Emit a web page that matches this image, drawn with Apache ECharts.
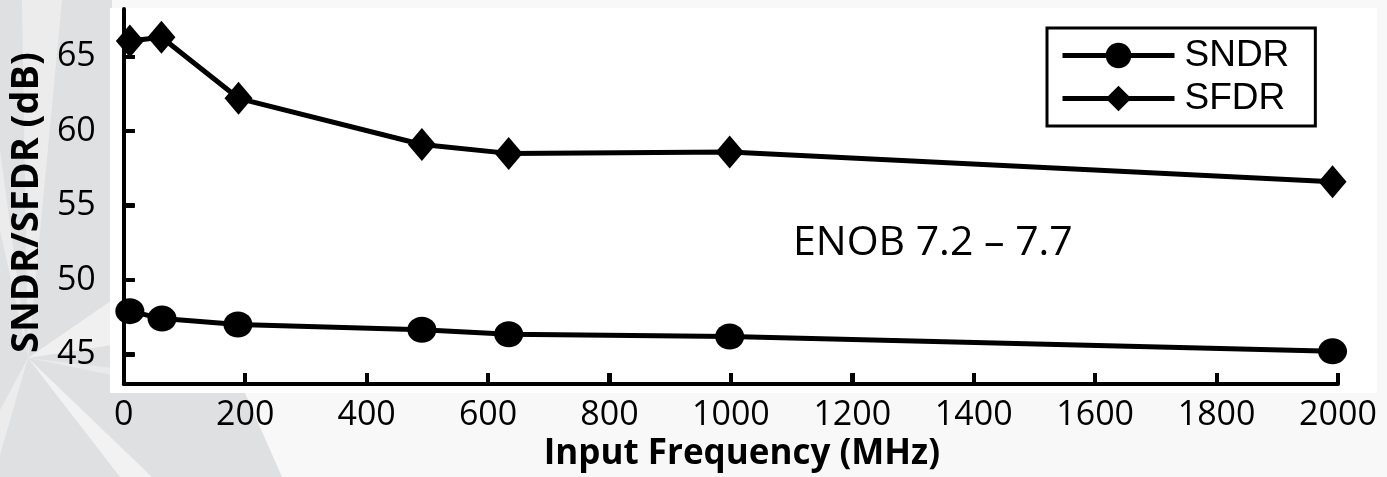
<!DOCTYPE html>
<html>
<head>
<meta charset="utf-8">
<script src="https://cdn.jsdelivr.net/npm/echarts@6/dist/echarts.min.js"></script>
<style>
html,body{margin:0;padding:0;background:#f8f8f8;}
#wrap{position:relative;width:1387px;height:477px;}
#bg{position:absolute;left:0;top:0;z-index:0;}
#c{position:absolute;left:0;top:0;width:1387px;height:477px;z-index:1;}
#ticks{position:absolute;left:0;top:0;pointer-events:none;z-index:10;}
</style>
</head>
<body>
<div id="wrap">
<svg id="bg" width="1387" height="477" xmlns="http://www.w3.org/2000/svg">
  <rect x="0" y="0" width="1387" height="477" fill="#f8f8f8"/>
  <polygon points="0,0 112,0 112,393 245,393 282,477 0,477" fill="#dfe0e2"/>
  <polygon points="28,358 22,0 62,0" fill="#ececed"/>
  <polygon points="28,358 0,150 0,230" fill="#ececed"/>
  <polygon points="28,358 112,300 112,345" fill="#f0f0f0"/>
  <polygon points="28,358 120,477 152,477" fill="#f2f2f2"/>
  <polygon points="28,358 0,410 0,455" fill="#ececed"/>
  <polygon points="28,358 112,368 112,393 200,393" fill="#eaeaeb"/>
  <rect x="110" y="8" width="1267" height="385" fill="#ffffff"/>
</svg>
<div id="c"></div>
<svg id="ticks" width="1387" height="477" xmlns="http://www.w3.org/2000/svg"></svg>
</div>
<script>
// ---- data ----
const sndrFreq = [10, 63, 188, 491, 634, 998, 1991];
const sndrVals = [47.9, 47.4, 47.0, 46.65, 46.35, 46.2, 45.2];
const sfdrFreq = [10, 62, 189, 491, 634, 998, 1991];
const sfdrVals = [66.05, 66.3, 62.2, 59.1, 58.5, 58.6, 56.6];
const yTicks = [45, 50, 55, 60, 65];
const xTicks = [0, 200, 400, 600, 800, 1000, 1200, 1400, 1600, 1800, 2000];
const annotation = 'ENOB 7.2 \u2013 7.7';
const yMin = 43, yMax = 68.2, xMin = 0, xMax = 2000;

const toPairs = (xs, ys) => xs.map((x, i) => [x, ys[i]]);
const noComma = v => String(v);
const GRID = {left: 121, right: 49, top: 9, bottom: 90};
const W = 1387, H = 477;

const chart = echarts.init(document.getElementById('c'));

const option = {
  animation: false,
  backgroundColor: 'transparent',
  graphic: [
    {id: 'enob', type: 'text', x: 793, y: 243, style: {text: annotation, font: '41px "Open Sans"', fill: '#000', verticalAlign: 'middle', align: 'left'}, z: 10}
  ],
  grid: GRID,
  legend: {
    orient: 'vertical',
    left: 1047, top: 28,
    padding: [9, 26, 9, 13],
    itemGap: 6,
    itemWidth: 112,
    itemHeight: 32,
    borderColor: '#000',
    borderWidth: 3,
    backgroundColor: '#fff',
    lineStyle: {width: 5, color: '#000'},
    textStyle: {fontFamily: '"Liberation Sans", Arial, sans-serif', fontSize: 37, color: '#000', padding: [0,0,0,5]},
    data: ['SNDR', 'SFDR']
  },
  xAxis: {
    type: 'value', min: xMin, max: xMax, interval: 200,
    name: 'Input Frequency (MHz)', nameLocation: 'middle', nameGap: 46,
    nameTextStyle: {fontFamily: '"Open Sans"', fontWeight: 'bold', fontSize: 35, color: '#000', padding: [0, 0, 0, 22]},
    axisLine: {show: true, lineStyle: {color: '#000', width: 4}},
    axisTick: {show: true, inside: true, length: 11, lineStyle: {color: '#000', width: 4}},
    axisLabel: {fontFamily: '"Open Sans"', fontSize: 34, color: '#000', margin: 14, formatter: noComma},
    splitLine: {show: false}
  },
  yAxis: {
    type: 'value', min: yMin, max: yMax,
    name: 'SNDR/SFDR (dB)', nameLocation: 'middle', nameGap: 71,
    nameTextStyle: {fontFamily: '"Open Sans"', fontWeight: 'bold', fontSize: 38, color: '#000', padding: [0, 12, 0, 0]},
    axisLine: {show: true, lineStyle: {color: '#000', width: 4}},
    axisTick: {show: true, inside: true, length: 11, lineStyle: {color: '#000', width: 4}, customValues: yTicks},
    axisLabel: {fontFamily: '"Open Sans"', fontSize: 34, color: '#000', margin: 28, customValues: yTicks, formatter: noComma},
    splitLine: {show: false}
  },
  series: [
    {
      name: 'SNDR', type: 'line', data: toPairs(sndrFreq, sndrVals),
      symbol: 'circle', symbolSize: [29, 26], showAllSymbol: true,
      lineStyle: {color: '#000', width: 5}, itemStyle: {color: '#000'}
    },
    {
      name: 'SFDR', type: 'line', data: toPairs(sfdrFreq, sfdrVals),
      symbol: 'diamond', symbolSize: [28, 33], showAllSymbol: true,
      lineStyle: {color: '#000', width: 5}, itemStyle: {color: '#000'}
    }
  ]
};
try { chart.setOption(option); } catch (e) { console.error(e); }

// inward tick marks; use the chart's axis scale, checked against the grid box
const gl = GRID.left, gr = W - GRID.right, gt = GRID.top, gb = H - GRID.bottom;
function linX(v) { return gl + (v - xMin) / (xMax - xMin) * (gr - gl); }
function linY(v) { return gb - (v - yMin) / (yMax - yMin) * (gb - gt); }
function px(v) {
  let p = NaN;
  try { p = chart.convertToPixel({xAxisIndex: 0}, v); } catch (e) {}
  if (Array.isArray(p)) p = p[0];
  if (typeof p !== 'number' || !isFinite(p) || Math.abs(p - linX(v)) > 3) p = linX(v);
  return p;
}
function py(v) {
  let p = NaN;
  try { p = chart.convertToPixel({yAxisIndex: 0}, v); } catch (e) {}
  if (Array.isArray(p)) p = p[1];
  if (typeof p !== 'number' || !isFinite(p) || Math.abs(p - linY(v)) > 3) p = linY(v);
  return p;
}
const NS = 'http://www.w3.org/2000/svg';
const svg = document.getElementById('ticks');
const tickLen = 11;
const ax = px(xMin), ay = py(yMin);
function addLine(x1, y1, x2, y2) {
  const ln = document.createElementNS(NS, 'line');
  ln.setAttribute('x1', String(x1)); ln.setAttribute('y1', String(y1));
  ln.setAttribute('x2', String(x2)); ln.setAttribute('y2', String(y2));
  ln.setAttribute('stroke', '#000'); ln.setAttribute('stroke-width', '4');
  svg.appendChild(ln);
}
xTicks.forEach(v => { const x = Math.round(px(v)); addLine(x, ay, x, ay - tickLen); });
yTicks.forEach(v => { const y = Math.round(py(v)); addLine(ax, y, ax + tickLen, y); });
</script>
</body>
</html>
